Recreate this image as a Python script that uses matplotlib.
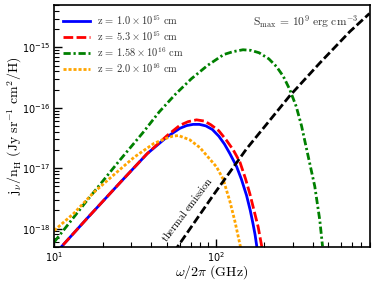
import matplotlib
matplotlib.use("Agg")
import matplotlib.pyplot as plt


# frequences (GHz) et emissivites (Jy sr^-1 cm^2 / H)
freq_z1 = [10.0, 11.0, 16.0, 25.8, 37.7, 50.1, 60.1, 66.1, 72.6, 79.4, 87.1, 95.5, 104.7,
           113.5, 122.7, 134.9, 144.5, 155.6, 164.1, 171.0, 175.8, 179.5, 182.8]
j_z1 = [3.7e-19, 4.9e-19, 1.48e-18, 5.9e-18, 1.74e-17, 3.31e-17, 4.57e-17, 5.07e-17,
        5.31e-17, 5.31e-17, 5.01e-17, 4.37e-17, 3.39e-17, 2.51e-17, 1.74e-17, 1.07e-17,
        6.6e-18, 3.55e-18, 2.0e-18, 1.17e-18, 7.9e-19, 5.4e-19, 3.8e-19]

freq_z2 = [10.0, 11.0, 16.0, 25.8, 37.7, 50.1, 60.1, 67.6, 76.2, 85.1, 93.3, 104.7, 117.0,
           128.8, 141.6, 153.1, 163.0, 183.6, 195.0]
j_z2 = [3.7e-19, 4.9e-19, 1.48e-18, 5.9e-18, 1.74e-17, 3.47e-17, 5.13e-17, 5.89e-17,
        6.31e-17, 6.03e-17, 5.25e-17, 4.17e-17, 2.88e-17, 2.0e-17, 1.26e-17, 6.76e-18,
        3.8e-18, 1.07e-18, 4.47e-19]

freq_z3 = [10.0, 15.8, 25.1, 35.5, 44.7, 56.2, 70.8, 89.1, 112.2, 128.8, 147.9, 166.0,
           186.2, 213.8, 238.8, 263.0, 288.4, 316.2, 341.2, 366.4, 412.1, 442.6, 460.3]
j_z3 = [6.0e-19, 2.82e-18, 1.29e-17, 3.89e-17, 8.51e-17, 1.66e-16, 3.02e-16, 5.01e-16,
        7.59e-16, 8.51e-16, 9.12e-16, 8.91e-16, 8.13e-16, 6.46e-16, 4.79e-16, 3.31e-16,
        2.0e-16, 1.05e-16, 5.01e-17, 2.09e-17, 5.0e-18, 1.38e-18, 5.1e-19]

freq_z4 = [10.0, 13.2, 17.6, 23.4, 31.2, 41.5, 50.1, 54.3, 58.9, 69.2, 80.0, 101.4, 111.4,
           122.7, 131.8, 142.9]
j_z4 = [9.3e-19, 1.78e-18, 3.98e-18, 7.76e-18, 1.51e-17, 2.57e-17, 3.16e-17, 3.39e-17,
        3.47e-17, 2.95e-17, 2.19e-17, 1.05e-17, 6.6e-18, 2.82e-18, 1.32e-18, 4.9e-19]

freq_therm = [50.1, 57.8, 96.6, 155.6, 238.8, 288.4, 442.6, 679.2, 899.5]
j_therm = [2.88e-19, 4.9e-19, 3.55e-18, 2.09e-17, 8.51e-17, 1.58e-16, 5.5e-16, 1.82e-15, 3.63e-15]

labels = [
    r"$\mathrm{z}\,=\,1.0\times10^{15}\ \mathrm{cm}$",
    r"$\mathrm{z}\,=\,5.3\times10^{15}\ \mathrm{cm}$",
    r"$\mathrm{z}\,=\,1.58\times10^{16}\ \mathrm{cm}$",
    r"$\mathrm{z}\,=\,2.0\times10^{16}\ \mathrm{cm}$",
]


def tracer():
    fig = plt.figure(figsize=(3.74, 2.84), dpi=100)
    ax = fig.add_axes([0.145, 0.131, 0.843, 0.851])

    ax.plot(freq_z1, j_z1, color="blue", lw=2, label=labels[0])
    ax.plot(freq_z2, j_z2, color="red", lw=2, dashes=(3.5, 1.2), label=labels[1])
    ax.plot(freq_z3, j_z3, color="green", lw=2, dashes=(2.6, 1.0, 0.8, 1.0), label=labels[2])
    ax.plot(freq_z4, j_z4, color="orange", lw=2, dashes=(1.1, 0.7), label=labels[3])
    ax.plot(freq_therm, j_therm, color="black", lw=2, dashes=(3.0, 1.2))

    ax.set_xscale("log")
    ax.set_yscale("log")
    ax.set_xlim(10, 900)
    ax.set_ylim(5e-19, 5e-15)

    ax.tick_params(which="both", direction="in", top=False, right=False, labelsize=7)
    ax.tick_params(which="major", length=6, width=1, pad=2.5)
    ax.tick_params(which="minor", length=3.5, width=0.8)
    for s in ax.spines.values():
        s.set_linewidth(1.2)

    ax.set_xlabel(r"$\omega/2\pi\ \mathrm{(GHz)}$", fontsize=10, math_fontfamily="cm", va="center")
    ax.set_ylabel(r"$\mathrm{j}_{\nu}/\mathrm{n}_{\mathrm{H}}\ \mathrm{(Jy\ sr^{-1}\ cm^{2}/H)}$",
                  fontsize=10, math_fontfamily="cm", va="center")
    ax.xaxis.set_label_coords(0.5, -0.105)
    ax.yaxis.set_label_coords(-0.124, 0.5)

    ax.text(0.963, 0.93, r"$\mathrm{S}_{\mathrm{max}}\,=\,10^{9}\ \mathrm{erg\ cm^{-3}}$",
            transform=ax.transAxes, ha="right", va="center", fontsize=8.3,
            math_fontfamily="cm", color="#333333")
    ax.text(49.5, 5.8e-19, r"$\mathrm{thermal\ emission}$", rotation=53,
            rotation_mode="anchor", ha="left", va="baseline", fontsize=7.5,
            math_fontfamily="cm")

    leg = ax.legend(loc="upper left", frameon=False, fontsize=7.5, handlelength=2.6,
                    handletextpad=0.7, labelspacing=0.22, borderaxespad=0.4)
    for t in leg.get_texts():
        t.set_math_fontfamily("cm")
        t.set_color("#333333")

    fig.savefig("out.png", dpi=100)
    plt.close(fig)


if __name__ == "__main__":
    tracer()
